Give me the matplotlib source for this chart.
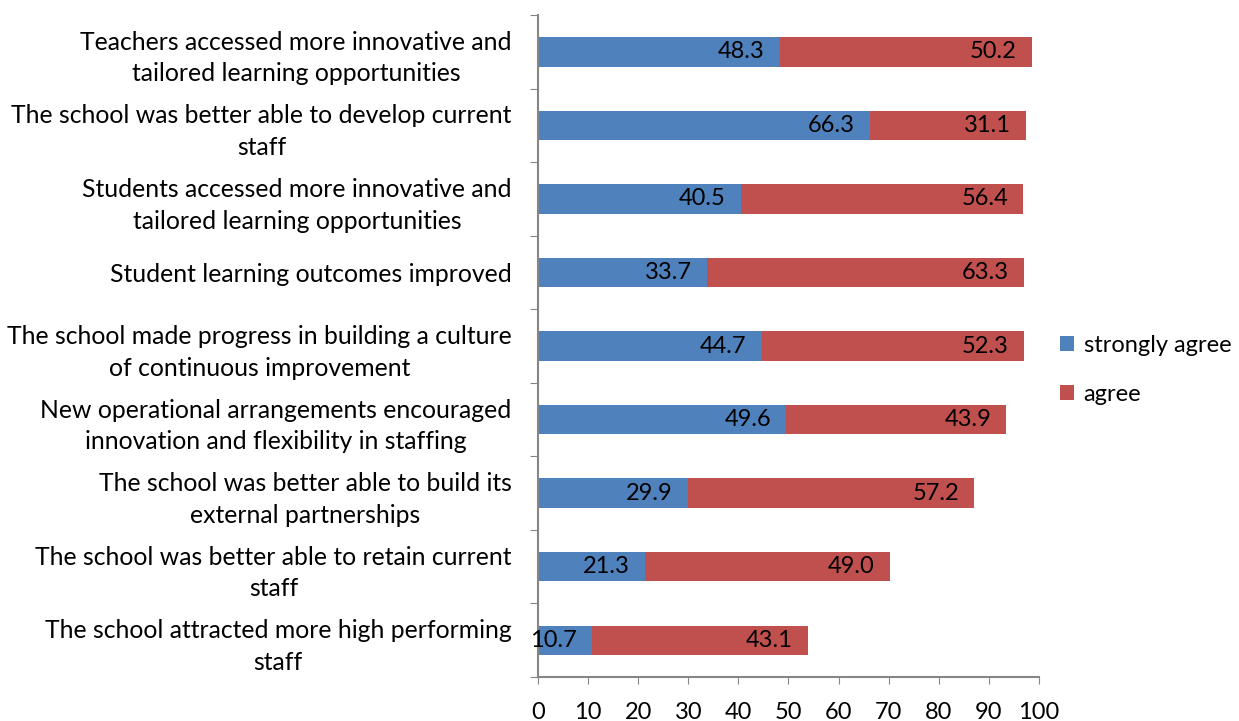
import numpy as np
import matplotlib.pyplot as plt

categories = [
    "Teachers accessed more innovative and\ntailored learning opportunities",
    "The school was better able to develop current\nstaff",
    "Students accessed more innovative and\ntailored learning opportunities",
    "Student learning outcomes improved",
    "The school made progress in building a culture\nof continuous improvement",
    "New operational arrangements encouraged\ninnovation and flexibility in staffing",
    "The school was better able to build its\nexternal partnerships",
    "The school was better able to retain current\nstaff",
    "The school attracted more high performing\nstaff",
]
strongly_agree = [48.3, 66.3, 40.5, 33.7, 44.7, 49.6, 29.9, 21.3, 10.7]
agree = [50.2, 31.1, 56.4, 63.3, 52.3, 43.9, 57.2, 49.0, 43.1]

blue = "#4F81BD"
red = "#C0504D"
grey = "#868686"

plt.rcParams['font.family'] = ['Lato', 'DejaVu Sans']

fig = plt.figure(figsize=(12.39, 7.21), dpi=100)
ax = fig.add_axes([0.4342, 0.061, 0.4044, 0.918])

n = len(categories)
y = np.arange(n)[::-1]

b1 = ax.barh(y, strongly_agree, height=0.4, color=blue, label="strongly agree")
b2 = ax.barh(y, agree, left=strongly_agree, height=0.4, color=red, label="agree")

for yi, s, a in zip(y, strongly_agree, agree):
    ax.annotate(f"{s:.1f}", (s, yi), xytext=(-11, 0), textcoords="offset points",
                ha="right", va="center", fontsize=17)
    ax.annotate(f"{a:.1f}", (s + a, yi), xytext=(-11, 0), textcoords="offset points",
                ha="right", va="center", fontsize=17)

ax.set_xlim(0, 100)
ax.set_ylim(-0.5, n - 0.5)
ax.set_xticks(np.arange(0, 101, 10))
ax.tick_params(axis="x", labelsize=17, length=5, color=grey, pad=13)

# boundary ticks on the category axis, labels sit between them
ax.set_yticks(np.arange(n + 1) - 0.5)
ax.set_yticklabels([])
ax.set_yticks(y, minor=True)
ax.set_yticklabels(categories, minor=True, fontsize=17.8, multialignment="center",
                   linespacing=1.45)
ax.tick_params(axis="y", which="major", length=6, color=grey)
ax.tick_params(axis="y", which="minor", length=0, pad=19)

for side in ["top", "right"]:
    ax.spines[side].set_visible(False)
for side in ["left", "bottom"]:
    ax.spines[side].set_color(grey)
    ax.spines[side].set_linewidth(1.5)

fig.legend(handles=[b1, b2], loc="center left", bbox_to_anchor=(0.848, 0.487),
           frameon=False, fontsize=17, handlelength=0.6, handleheight=0.6,
           handletextpad=0.4, labelspacing=1.2, borderaxespad=0)

fig.savefig("out.png", dpi=100)
